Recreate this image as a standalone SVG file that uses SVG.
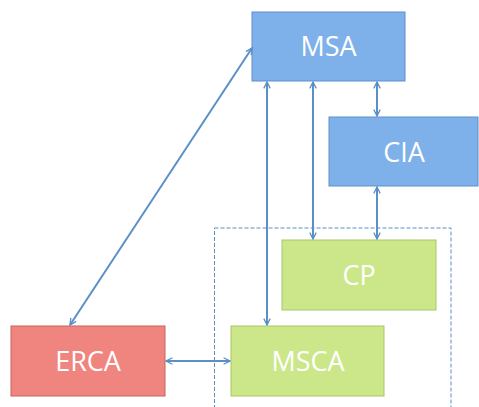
<svg xmlns="http://www.w3.org/2000/svg" width="479" height="407" viewBox="0 0 479 407">
<defs>
<marker id="ah" viewBox="0 0 10 10" refX="9" refY="5" markerWidth="8" markerHeight="8" markerUnits="userSpaceOnUse" orient="auto-start-reverse">
<path d="M1,1 L9,5 L1,9" fill="none" stroke="#5B8FC6" stroke-width="1.6"/>
</marker>
</defs>
<style>
.blue{fill:#7EB0EA;stroke:#5F8FCB;stroke-width:1}
.green{fill:#CCE78A;stroke:#A8C765;stroke-width:1}
.red{fill:#F0847E;stroke:#C8625D;stroke-width:1}
.lbl{font-family:"Open Sans","Liberation Sans",sans-serif;font-size:27px;fill:#fff;text-anchor:middle}
.c{stroke:#5B8FC6;stroke-width:2;fill:none;marker-start:url(#ah);marker-end:url(#ah)}
</style>
<g id="container">
<rect x="214.5" y="228" width="236.5" height="190" fill="none" stroke="#5B8FC6" stroke-width="1" stroke-dasharray="4,2"/>
</g>
<g id="MSA"><rect class="blue" x="252" y="12" width="153" height="69"/><text class="lbl" x="328.5" y="56">MSA</text></g>
<g id="CIA"><rect class="blue" x="329" y="117" width="149" height="69"/><text class="lbl" x="404" y="162">CIA</text></g>
<g id="CP"><rect class="green" x="282" y="240" width="154" height="70"/><text class="lbl" x="359" y="285">CP</text></g>
<g id="MSCA"><rect class="green" x="231" y="326" width="153" height="70"/><text class="lbl" x="308" y="371">MSCA</text></g>
<g id="ERCA"><rect class="red" x="11" y="326" width="154" height="70"/><text class="lbl" x="88" y="371">ERCA</text></g>
<g id="connectors">
<line class="c" x1="70" y1="325" x2="252" y2="48"/>
<line class="c" x1="267" y1="82" x2="267" y2="325"/>
<line class="c" x1="313" y1="82" x2="313" y2="239"/>
<line class="c" x1="377" y1="82" x2="377" y2="116"/>
<line class="c" x1="377" y1="187" x2="377" y2="239"/>
<line class="c" x1="166" y1="361" x2="230" y2="361"/>
</g>
</svg>
